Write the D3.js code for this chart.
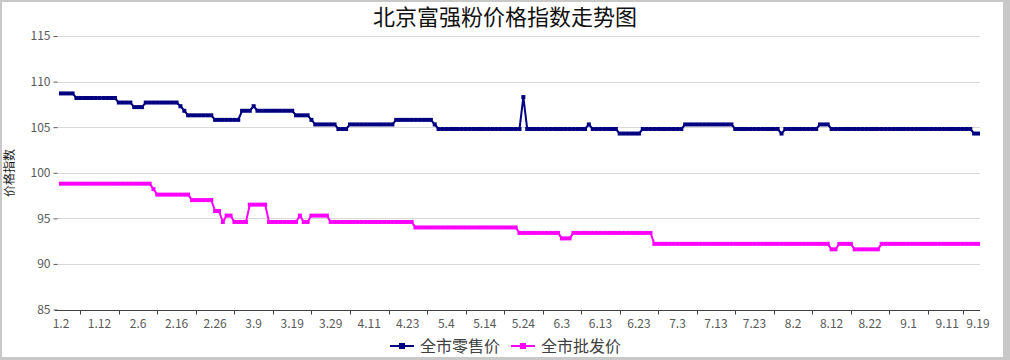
<!DOCTYPE html>
<html><head><meta charset="utf-8">
<script src="https://cdn.jsdelivr.net/npm/d3@7/dist/d3.min.js"></script>
<style>
html,body{margin:0;padding:0;background:#c8c8c8;}
svg{display:block;}
text{font-family:"Noto Sans CJK SC","Microsoft YaHei",sans-serif;}
</style></head>
<body>
<svg id="chart" width="1010" height="360"></svg>
<script>
const title = "北京富强粉价格指数走势图";
const yTitle = "价格指数";
const seriesNames = ["全市零售价", "全市批发价"];
const seriesColors = ["#000080", "#FF00FF"];
const yTicks = [85, 90, 95, 100, 105, 110, 115];
const tickLabels = ["1.2","1.12","2.6","2.16","2.26","3.9","3.19","3.29","4.11","4.23","5.4","5.14","5.24","6.3","6.13","6.23","7.3","7.13","7.23","8.2","8.12","8.22","9.1","9.11","9.19"];
const tickLabelIndex = [0,10,20,30,40,50,60,70,80,90,100,110,120,130,140,150,160,170,180,190,200,210,220,230,238];
const tickMarkIndex = [5,15,25,35,45,55,65,75,85,95,105,115,125,135,145,155,165,175,185,195,205,215,225,234];

const retail = [
108.7,108.7,108.7,108.7,108.2,108.2,108.2,108.2,108.2,108.2,
108.2,108.2,108.2,108.2,108.2,107.7,107.7,107.7,107.7,107.2,
107.2,107.2,107.7,107.7,107.7,107.7,107.7,107.7,107.7,107.7,
107.7,107.3,106.8,106.3,106.3,106.3,106.3,106.3,106.3,106.3,
105.8,105.8,105.8,105.8,105.8,105.8,105.8,106.8,106.8,106.8,
107.3,106.8,106.8,106.8,106.8,106.8,106.8,106.8,106.8,106.8,
106.8,106.3,106.3,106.3,106.3,105.8,105.3,105.3,105.3,105.3,
105.3,105.3,104.8,104.8,104.8,105.3,105.3,105.3,105.3,105.3,
105.3,105.3,105.3,105.3,105.3,105.3,105.3,105.8,105.8,105.8,
105.8,105.8,105.8,105.8,105.8,105.8,105.8,105.3,104.8,104.8,
104.8,104.8,104.8,104.8,104.8,104.8,104.8,104.8,104.8,104.8,
104.8,104.8,104.8,104.8,104.8,104.8,104.8,104.8,104.8,104.8,
108.3,104.8,104.8,104.8,104.8,104.8,104.8,104.8,104.8,104.8,
104.8,104.8,104.8,104.8,104.8,104.8,104.8,105.3,104.8,104.8,
104.8,104.8,104.8,104.8,104.8,104.3,104.3,104.3,104.3,104.3,
104.3,104.8,104.8,104.8,104.8,104.8,104.8,104.8,104.8,104.8,
104.8,104.8,105.3,105.3,105.3,105.3,105.3,105.3,105.3,105.3,
105.3,105.3,105.3,105.3,105.3,104.8,104.8,104.8,104.8,104.8,
104.8,104.8,104.8,104.8,104.8,104.8,104.8,104.3,104.8,104.8,
104.8,104.8,104.8,104.8,104.8,104.8,104.8,105.3,105.3,105.3,
104.8,104.8,104.8,104.8,104.8,104.8,104.8,104.8,104.8,104.8,
104.8,104.8,104.8,104.8,104.8,104.8,104.8,104.8,104.8,104.8,
104.8,104.8,104.8,104.8,104.8,104.8,104.8,104.8,104.8,104.8,
104.8,104.8,104.8,104.8,104.8,104.8,104.8,104.3,104.3
];

const wholesale = [
98.8,98.8,98.8,98.8,98.8,98.8,98.8,98.8,98.8,98.8,
98.8,98.8,98.8,98.8,98.8,98.8,98.8,98.8,98.8,98.8,
98.8,98.8,98.8,98.8,98.2,97.6,97.6,97.6,97.6,97.6,
97.6,97.6,97.6,97.6,97.0,97.0,97.0,97.0,97.0,97.0,
95.8,95.8,94.6,95.3,95.3,94.6,94.6,94.6,94.6,96.5,
96.5,96.5,96.5,96.5,94.6,94.6,94.6,94.6,94.6,94.6,
94.6,94.6,95.3,94.6,94.6,95.3,95.3,95.3,95.3,95.3,
94.6,94.6,94.6,94.6,94.6,94.6,94.6,94.6,94.6,94.6,
94.6,94.6,94.6,94.6,94.6,94.6,94.6,94.6,94.6,94.6,
94.6,94.6,94.0,94.0,94.0,94.0,94.0,94.0,94.0,94.0,
94.0,94.0,94.0,94.0,94.0,94.0,94.0,94.0,94.0,94.0,
94.0,94.0,94.0,94.0,94.0,94.0,94.0,94.0,94.0,93.4,
93.4,93.4,93.4,93.4,93.4,93.4,93.4,93.4,93.4,93.4,
92.8,92.8,92.8,93.4,93.4,93.4,93.4,93.4,93.4,93.4,
93.4,93.4,93.4,93.4,93.4,93.4,93.4,93.4,93.4,93.4,
93.4,93.4,93.4,93.4,92.2,92.2,92.2,92.2,92.2,92.2,
92.2,92.2,92.2,92.2,92.2,92.2,92.2,92.2,92.2,92.2,
92.2,92.2,92.2,92.2,92.2,92.2,92.2,92.2,92.2,92.2,
92.2,92.2,92.2,92.2,92.2,92.2,92.2,92.2,92.2,92.2,
92.2,92.2,92.2,92.2,92.2,92.2,92.2,92.2,92.2,92.2,
91.6,91.6,92.2,92.2,92.2,92.2,91.6,91.6,91.6,91.6,
91.6,91.6,91.6,92.2,92.2,92.2,92.2,92.2,92.2,92.2,
92.2,92.2,92.2,92.2,92.2,92.2,92.2,92.2,92.2,92.2,
92.2,92.2,92.2,92.2,92.2,92.2,92.2,92.2,92.2
];

const series = [retail, wholesale];
const svg = d3.select("#chart");

// frame
svg.append("rect").attr("x", 2).attr("y", 2).attr("width", 1001).attr("height", 355).attr("fill", "#fff");

const plotL = 55, plotR = 980, plotT = 36, plotB = 309.5;
const x = d3.scalePoint().domain(d3.range(retail.length)).range([61, 978]);
const y = d3.scaleLinear().domain([85, 115]).range([plotB, plotT]);

// gridlines
svg.append("g").selectAll("line").data(yTicks.filter(v => v > 85)).join("line")
  .attr("x1", 57).attr("x2", plotR).attr("y1", d => Math.round(y(d)) + 0.5).attr("y2", d => Math.round(y(d)) + 0.5)
  .attr("stroke", "#d9d9d9").attr("stroke-width", 1);

// y axis ticks + labels
const yAxis = d3.axisLeft(y).tickValues(yTicks).tickSize(4).tickPadding(3);
const gy = svg.append("g").attr("transform", `translate(${57.5},0)`).call(yAxis);
gy.select(".domain").remove();
gy.selectAll(".tick line").attr("stroke", "#595959");
gy.selectAll(".tick text").attr("fill", "#595959").style("font-size", "12px");

// x axis
const xAxisY = Math.round(y(85)) + 0.5;
svg.append("line").attr("x1", plotL).attr("x2", plotR).attr("y1", xAxisY).attr("y2", xAxisY).attr("stroke", "#404040").attr("stroke-width", 1);
svg.append("g").selectAll("line").data(tickMarkIndex).join("line")
  .attr("x1", d => Math.round(x(d)) + 0.5).attr("x2", d => Math.round(x(d)) + 0.5)
  .attr("y1", xAxisY).attr("y2", xAxisY + 4).attr("stroke", "#404040");
svg.append("g").selectAll("text").data(tickLabels).join("text")
  .attr("x", (d, i) => x(tickLabelIndex[i])).attr("y", 327.5)
  .attr("text-anchor", "middle").attr("fill", "#595959").style("font-size", "12px")
  .text(d => d);

// series
const line = d3.line().x((d, i) => x(i)).y(d => y(d));
series.forEach((s, k) => {
  const g = svg.append("g");
  g.append("path").datum(s).attr("d", line).attr("fill", "none")
    .attr("stroke", seriesColors[k]).attr("stroke-width", 2).attr("stroke-linejoin", "round");
  g.selectAll("rect").data(s).join("rect")
    .attr("x", (d, i) => x(i) - 2).attr("y", d => y(d) - 2)
    .attr("width", 4).attr("height", 4).attr("fill", seriesColors[k]);
});

// title
svg.append("text").attr("x", 505).attr("y", 25).attr("text-anchor", "middle")
  .attr("fill", "#111").style("font-size", "22px").text(title);

// y title
svg.append("text").attr("transform", `translate(14,173) rotate(-90)`).attr("text-anchor", "middle")
  .attr("fill", "#1a1a1a").style("font-size", "12px").text(yTitle);

// legend
const legX = [390, 511];
seriesNames.forEach((n, k) => {
  const g = svg.append("g").attr("transform", `translate(${legX[k]},346)`);
  g.append("line").attr("x1", 0).attr("x2", 24).attr("y1", 0).attr("y2", 0).attr("stroke", seriesColors[k]).attr("stroke-width", 2);
  g.append("rect").attr("x", 9).attr("y", -3).attr("width", 6).attr("height", 6).attr("fill", seriesColors[k]);
  g.append("text").attr("x", 30).attr("y", 0).attr("dy", "0.36em").attr("fill", "#404040").style("font-size", "16px").text(n);
});
</script>
</body></html>
